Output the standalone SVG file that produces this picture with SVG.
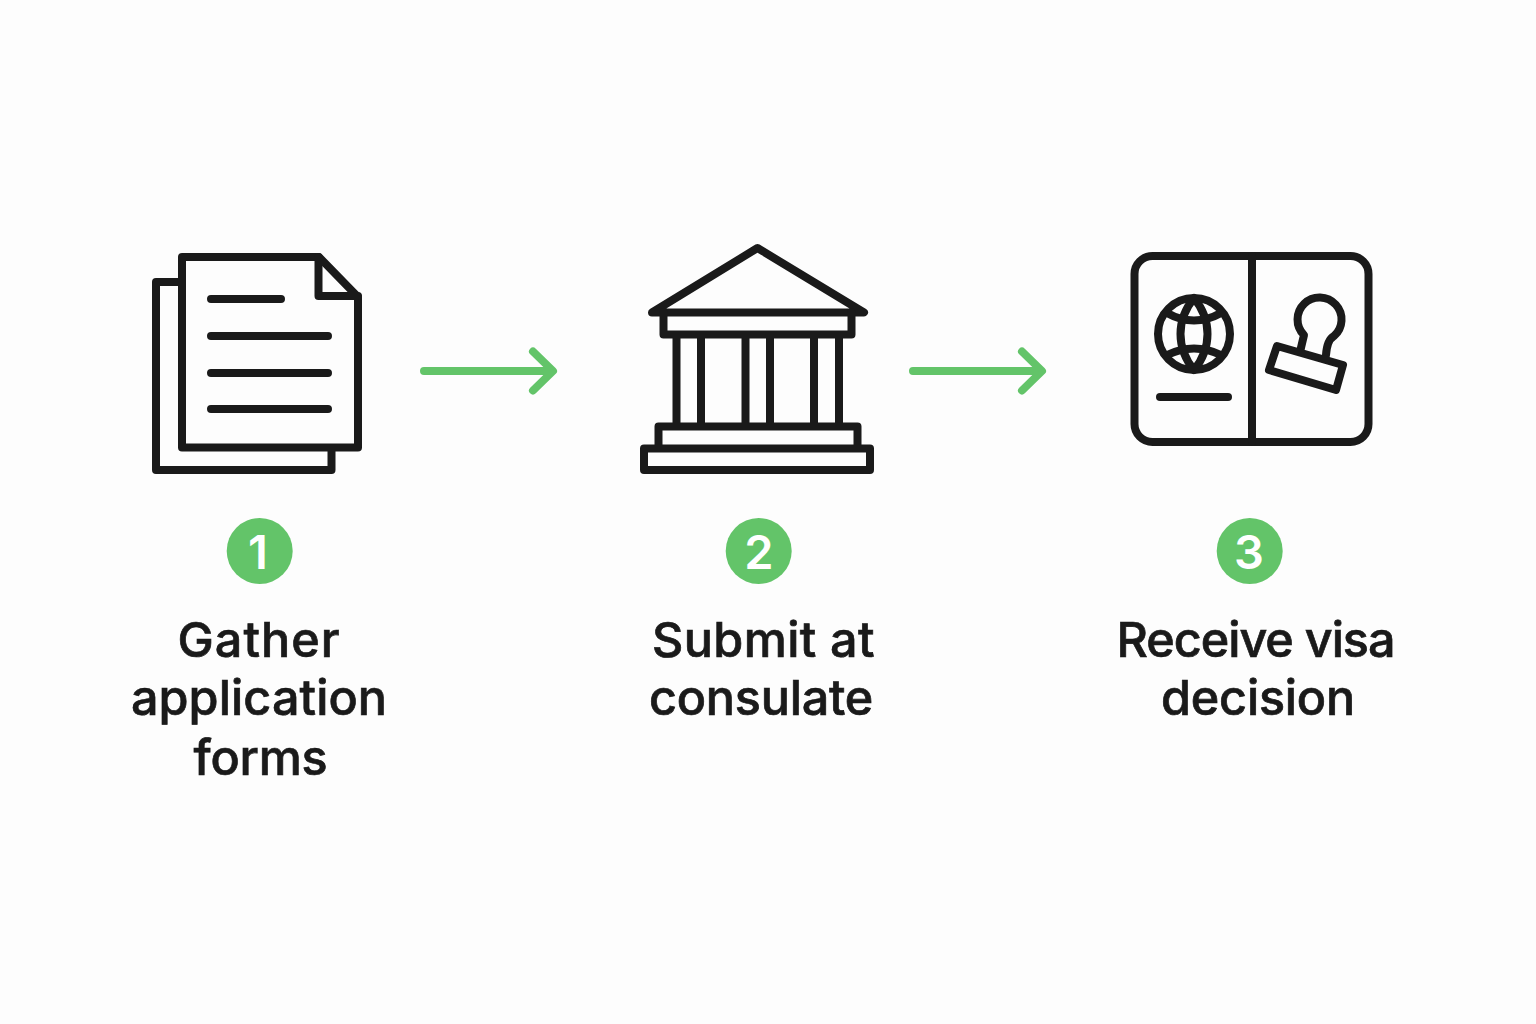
<svg xmlns="http://www.w3.org/2000/svg" width="1536" height="1024" viewBox="0 0 1536 1024">
<style>
.i{fill:none;stroke:#1a1a1a;stroke-width:8;stroke-linejoin:round;stroke-linecap:round}
.c{fill:none;stroke:#1a1a1a;stroke-width:8}
.w{fill:#fdfdfd}
.a{fill:none;stroke:#63c469;stroke-width:8;stroke-linecap:round;stroke-linejoin:round}
.b{fill:#63c469}
.n{font:600 47px Inter,"Liberation Sans",sans-serif;fill:#fff;text-anchor:middle}
.t{font:500 48.5px Inter,"Liberation Sans",sans-serif;fill:#1a1a1a;stroke:#1a1a1a;stroke-width:.7px;text-anchor:middle;letter-spacing:-.2px}
</style>
<rect width="1536" height="1024" fill="#fdfdfd"/>
<g id="connectors">
<path class="a" d="M424 371H552M533 351.500L553 371L533 390.500"/>
<path class="a" d="M913 371H1041M1022 351.500L1042 371L1022 390.500"/>
</g>
<g id="node1">
<path class="i" d="M182 282H156V470H331.500V447"/>
<path class="i w" d="M182 257H319L358 297V447.500H182Z"/>
<path class="i" d="M318.500 257V296H358"/>
<path class="i" d="M211 299H281M211 336H328M211 373H328M211 409H328"/>
<circle class="b" cx="259.700" cy="551" r="33"/>
<text class="n" x="258" y="569">1</text>
<text class="t" x="259" y="656.500" style="letter-spacing:1px">Gather</text>
<text class="t" x="259" y="715" style="letter-spacing:.1px">application</text>
<text class="t" x="260.500" y="775">forms</text>
</g>
<g id="node2">
<path class="i" d="M652 312.500L757.500 248L864 312.500Z"/>
<path class="i" d="M663.500 312.500V334.500H851.500V312.500"/>
<path class="c" d="M676.500 336V425M701 336V425M745.500 336V425M770 336V425M814 336V425M839 336V425"/>
<path class="i" d="M658.500 447V426.500H857.500V447"/>
<path class="i" d="M644 448.500H870V470H644Z"/>
<circle class="b" cx="758.700" cy="551" r="33"/>
<text class="n" x="759" y="569">2</text>
<text class="t" x="763.500" y="656.500" style="letter-spacing:.4px">Submit at</text>
<text class="t" x="761" y="715">consulate</text>
</g>
<g id="node3">
<rect class="i" x="1134.500" y="256" width="234" height="186" rx="18"/>
<path class="i" d="M1252 256V442"/>
<circle class="i" cx="1194" cy="334" r="36"/>
<path class="i" d="M1194 298C1176 320 1176 348 1194 370C1212 348 1212 320 1194 298Z"/>
<path class="i" d="M1167 313Q1194 328 1221 313M1167 355Q1194 342 1221 355"/>
<path class="i" d="M1160 397H1228"/>
<path class="i" d="M1300.700 349L1304 335A22 22 0 1 1 1334 336Q1327 340 1326 355"/>
<path class="i" d="M1277 346L1343 365L1336 390L1269 370Z"/>
<circle class="b" cx="1249.700" cy="551" r="33"/>
<text class="n" x="1249" y="569">3</text>
<text class="t" x="1255.500" y="656.500" style="letter-spacing:-1px">Receive visa</text>
<text class="t" x="1258" y="715">decision</text>
</g>
</svg>
